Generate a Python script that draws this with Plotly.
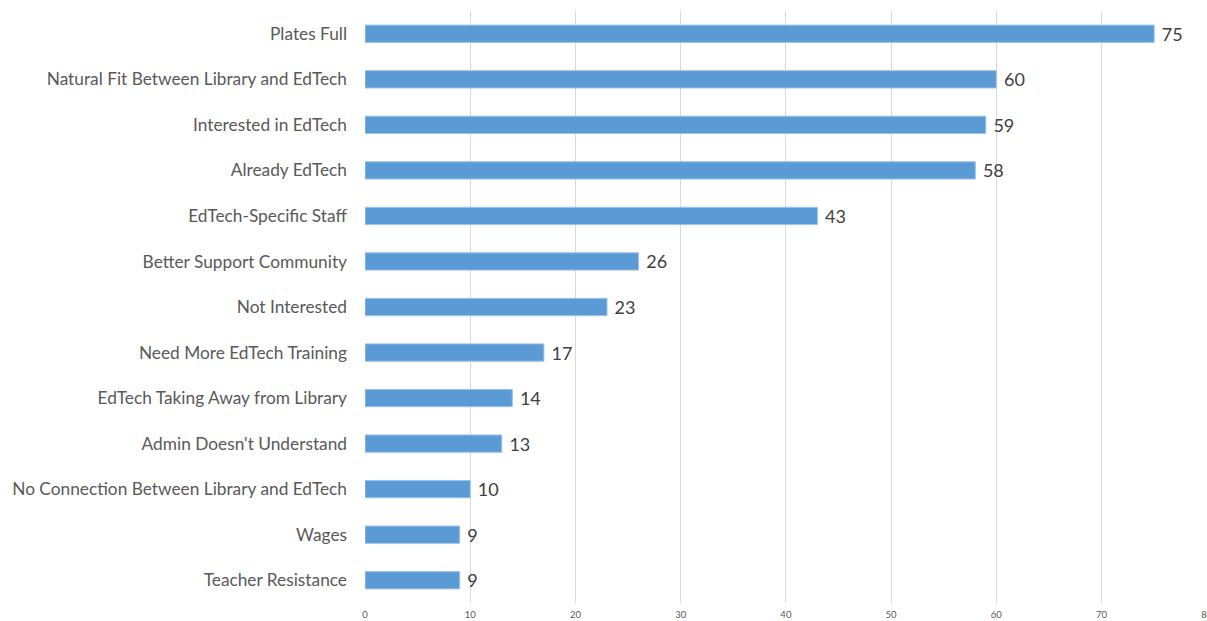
import plotly.graph_objects as go

# Survey responses, listed top to bottom
reasons = [
    "Plates Full",
    "Natural Fit Between Library and EdTech",
    "Interested in EdTech",
    "Already EdTech",
    "EdTech-Specific Staff",
    "Better Support Community",
    "Not Interested",
    "Need More EdTech Training",
    "EdTech Taking Away from Library",
    "Admin Doesn't Understand",
    "No Connection Between Library and EdTech",
    "Wages",
    "Teacher Resistance",
]
counts = [75, 60, 59, 58, 43, 26, 23, 17, 14, 13, 10, 9, 9]
x_ticks = [0, 10, 20, 30, 40, 50, 60, 70, 80]

fig = go.Figure(
    go.Bar(
        x=counts,
        y=reasons,
        orientation="h",
        marker=dict(color="#5B9BD5", line=dict(color="#9DC3E6", width=1)),
        width=0.38,
        text=[" " + str(c) for c in counts],
        textposition="outside",
        constraintext="none",
        textfont=dict(family="Lato, sans-serif", size=18, color="#404040"),
        cliponaxis=False,
    )
)

fig.update_layout(
    width=1207,
    height=621,
    margin=dict(l=365, r=0, t=11, b=18),
    paper_bgcolor="white",
    plot_bgcolor="white",
    showlegend=False,
    font=dict(family="Lato, sans-serif"),
    xaxis=dict(
        range=[0, 80.02],
        tickvals=x_ticks,
        ticktext=[str(v) for v in x_ticks],
        showgrid=True,
        gridcolor="#D9D9D9",
        gridwidth=1,
        zeroline=False,
        showline=False,
        ticks="",
        ticklabelstandoff=4,
        ticklabeloverflow="allow",
        tickfont=dict(size=9.5, color="#595959"),
        automargin=False,
    ),
    yaxis=dict(
        autorange="reversed",
        showgrid=False,
        showline=False,
        zeroline=False,
        ticks="",
        ticklabelstandoff=17,
        tickfont=dict(size=17.3, color="#595959"),
        automargin=False,
    ),
)

fig.write_html("out.html")
